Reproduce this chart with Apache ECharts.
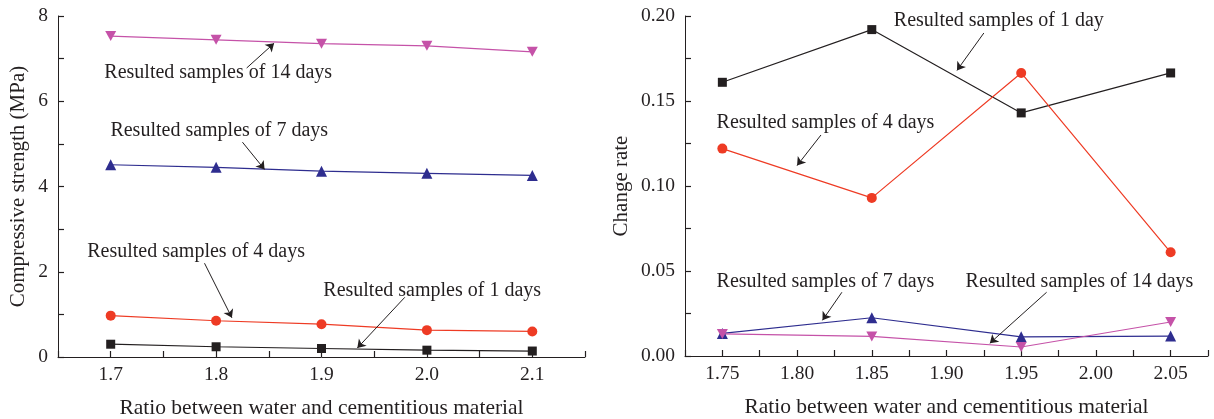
<!DOCTYPE html>
<html>
<head>
<meta charset="utf-8">
<script src="https://cdn.jsdelivr.net/npm/echarts@6/dist/echarts.min.js"></script>
<style>
html,body{margin:0;padding:0;background:#fff;}
#chart{width:1214px;height:419px;}
</style>
</head>
<body>
<div id="chart"></div>
<script>
// ---- Left panel data: compressive strength (MPa)
const ratioLeft = [1.7, 1.8, 1.9, 2.0, 2.1];
const strength1d  = [0.30, 0.24, 0.20, 0.16, 0.14];
const strength4d  = [0.97, 0.85, 0.77, 0.63, 0.60];
const strength7d  = [4.51, 4.45, 4.36, 4.31, 4.26];
const strength14d = [7.53, 7.44, 7.35, 7.30, 7.16];

// ---- Right panel data: change rate
const ratioRight = [1.75, 1.85, 1.95, 2.05];
const rate1d  = [0.161, 0.192, 0.143, 0.1665];
const rate4d  = [0.122, 0.093, 0.1665, 0.061];
const rate7d  = [0.0133, 0.0225, 0.0113, 0.0117];
const rate14d = [0.0130, 0.0115, 0.0053, 0.0200];

// ---- Text
const xTitle = 'Ratio between water and cementitious material';
const yTitleLeft = 'Compressive strength (MPa)';
const yTitleRight = 'Change rate';
const leftNames  = ['Resulted samples of 1 days','Resulted samples of 4 days','Resulted samples of 7 days','Resulted samples of 14 days'];
const rightNames = ['Resulted samples of 1 day','Resulted samples of 4 days','Resulted samples of 7 days','Resulted samples of 14 days'];

// ---- Annotation placement (data coordinates): text centre, arrow start, arrow end
const leftNotes = [
  {text:[2.005,1.56], from:[1.979,1.40], to:[1.934,0.21]},
  {text:[1.781,2.46], from:[1.789,2.20], to:[1.815,0.92]},
  {text:[1.803,5.30], from:[1.825,5.04], to:[1.846,4.40]},
  {text:[1.802,6.68], from:[1.829,6.78], to:[1.855,7.36]}
];
const rightNotes = [
  {text:[1.935,0.197], from:[1.925,0.190], to:[1.907,0.168]},
  {text:[1.819,0.1375], from:[1.816,0.130], to:[1.800,0.112]},
  {text:[1.819,0.0434], from:[1.830,0.0375], to:[1.817,0.021]},
  {text:[1.989,0.0434], from:[1.967,0.0375], to:[1.929,0.0075]}
];

const FONT = 'Liberation Serif';
const INK = '#231f20';
const colors = ['#231f20', '#ee3b24', '#2e2d8f', '#c552a8'];
const symbols = ['rect', 'circle', 'triangle', 'path://M0,0 L10,0 L5,9 Z'];
const symSizes = [9, 10, 11, [11,10]];

function pairs(xs, ys){ return xs.map((x,i)=>[x, ys[i]]); }

function makeSeries(idx, xs, ys, k, name, note){
  return {
    type:'line', name:name, xAxisIndex:idx, yAxisIndex:idx,
    data: pairs(xs, ys),
    symbol: symbols[k], symbolSize: symSizes[k], showSymbol:true,
    lineStyle:{color:colors[k], width:1.2},
    itemStyle:{color:colors[k]},
    silent:true, animation:false, z: 3,
    markLine:{
      silent:true, animation:false,
      symbol:['none','arrow'], symbolSize:8,
      lineStyle:{color:INK, width:1, type:'solid'},
      itemStyle:{color:INK},
      label:{show:false},
      emphasis:{disabled:true},
      data:[[{coord:note.from},{coord:note.to}]]
    },
    markPoint:{
      silent:true, animation:false,
      symbol:'circle', symbolSize:0,
      label:{show:true, position:'inside', formatter:name, fontFamily:FONT, fontSize:20, color:INK},
      data:[{coord:note.text}]
    }
  };
}

function axisLineStyle(){ return {show:true, onZero:false, lineStyle:{color:INK, width:1}}; }
// y axes: ticks inside (to the right); x axes: ticks pointing up into the plot
function yTick(){ return {show:true, inside:true, length:6, lineStyle:{color:INK, width:1.2}}; }
function xTick(){ return {show:true, inside:false, length:-6, lineStyle:{color:INK, width:1.2}}; }
const labelStyle = {fontFamily:FONT, fontSize:19.5, color:INK};

function near(v, step){ const q=v/step; return Math.abs(q-Math.round(q))<1e-6; }

const option = {
  backgroundColor:'#fff',
  animation:false,
  grid:[
    {left:58, top:16, width:527, height:341, containLabel:false, outerBoundsMode:'none'},
    {left:685, top:16, width:523, height:340, containLabel:false, outerBoundsMode:'none'}
  ],
  xAxis:[
    {type:'value', gridIndex:0, min:1.65, max:2.15, interval:0.05,
     axisLine:axisLineStyle(), axisTick:xTick(), splitLine:{show:false},
     axisLabel:Object.assign({margin:8, formatter:v=>near(v,0.1)?v.toFixed(1):''}, labelStyle),
     name:xTitle, nameLocation:'middle', nameGap:40,
     nameTextStyle:{fontFamily:FONT, fontSize:21.5, color:INK}},
    {type:'value', gridIndex:1, min:1.725, max:2.075, interval:0.025,
     axisLine:axisLineStyle(), axisTick:xTick(), splitLine:{show:false},
     axisLabel:Object.assign({margin:8, formatter:v=>near(v,0.05)?v.toFixed(2):''}, labelStyle),
     name:xTitle, nameLocation:'middle', nameGap:40,
     nameTextStyle:{fontFamily:FONT, fontSize:21.5, color:INK}}
  ],
  yAxis:[
    {type:'value', gridIndex:0, min:0, max:8, interval:1,
     axisLine:axisLineStyle(), axisTick:yTick(), splitLine:{show:false},
     axisLabel:Object.assign({margin:10, formatter:v=>near(v,2)?String(Math.round(v)):''}, labelStyle),
     name:yTitleLeft, nameLocation:'middle', nameGap:29, nameRotate:90,
     nameTextStyle:{fontFamily:FONT, fontSize:21, color:INK}},
    {type:'value', gridIndex:1, min:0, max:0.2, interval:0.025,
     axisLine:axisLineStyle(), axisTick:yTick(), splitLine:{show:false},
     axisLabel:Object.assign({margin:10, formatter:v=>near(v,0.05)?v.toFixed(2):''}, labelStyle),
     name:yTitleRight, nameLocation:'middle', nameGap:53, nameRotate:90,
     nameTextStyle:{fontFamily:FONT, fontSize:21, color:INK}}
  ],
  series:[
    makeSeries(0, ratioLeft, strength1d, 0, leftNames[0], leftNotes[0]),
    makeSeries(0, ratioLeft, strength4d, 1, leftNames[1], leftNotes[1]),
    makeSeries(0, ratioLeft, strength7d, 2, leftNames[2], leftNotes[2]),
    makeSeries(0, ratioLeft, strength14d, 3, leftNames[3], leftNotes[3]),
    makeSeries(1, ratioRight, rate1d, 0, rightNames[0], rightNotes[0]),
    makeSeries(1, ratioRight, rate4d, 1, rightNames[1], rightNotes[1]),
    makeSeries(1, ratioRight, rate7d, 2, rightNames[2], rightNotes[2]),
    makeSeries(1, ratioRight, rate14d, 3, rightNames[3], rightNotes[3])
  ]
};

const chart = echarts.init(document.getElementById('chart'), null, {renderer:'canvas'});
chart.setOption(option);
</script>
</body>
</html>
